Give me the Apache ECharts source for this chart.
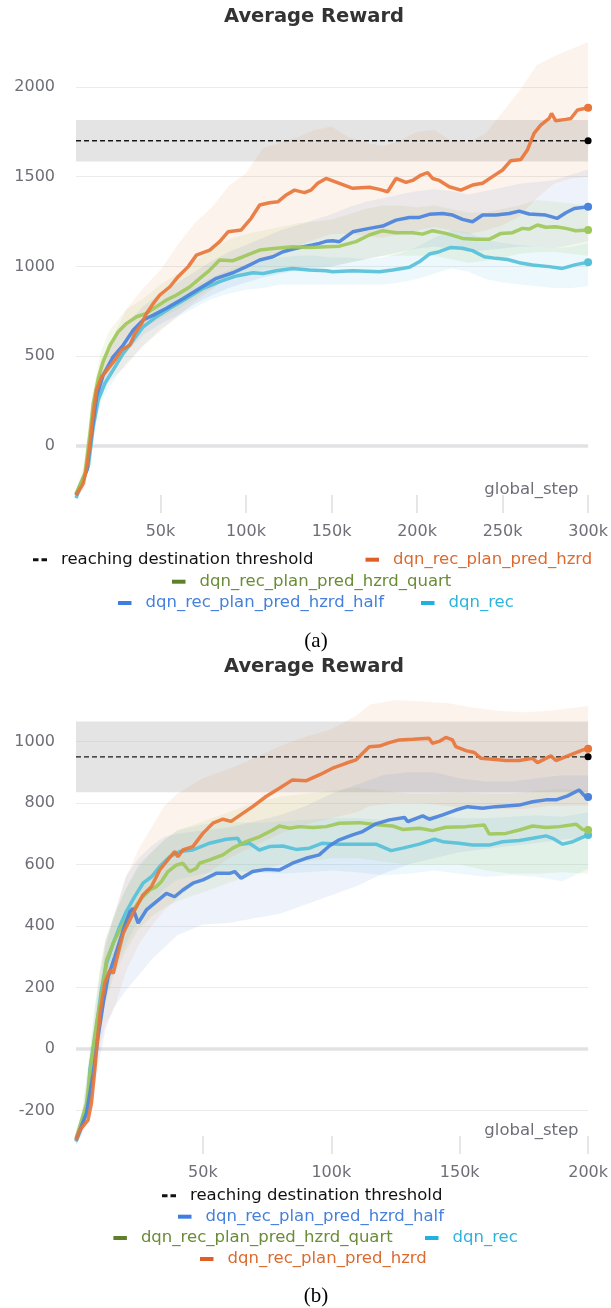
<!DOCTYPE html>
<html>
<head>
<meta charset="utf-8">
<script src="https://cdn.jsdelivr.net/npm/echarts@6/dist/echarts.min.js"></script>
<style>
  html, body { margin: 0; padding: 0; background: #ffffff; }
  #chart { width: 611px; height: 1308px; }
</style>
</head>
<body>
<div id="chart"></div>
<script>
// ---------- series names ----------
const NAME_THR = 'reaching destination threshold';
const NAME_HZRD = 'dqn_rec_plan_pred_hzrd';
const NAME_QUART = 'dqn_rec_plan_pred_hzrd_quart';
const NAME_HALF = 'dqn_rec_plan_pred_hzrd_half';
const NAME_REC = 'dqn_rec';

// ---------- panel (a): 300k steps ----------
const xTicksA = [50000, 100000, 150000, 200000, 250000, 300000];
const thresholdA = 1700;
const thresholdBandA = [1585, 1815];

const hzrdA = [[600,-273],[4900,-208],[6900,-115],[8800,15],[10700,182],[12600,312],[15600,386],[19500,432],[23400,479],[27300,535],[32100,562],[35000,627],[39000,683],[41900,739],[45800,794],[49600,841],[55500,887],[60300,943],[66200,999],[71000,1063],[78800,1091],[84600,1138],[89500,1193],[97200,1203],[103000,1268],[108000,1342],[113700,1355],[118600,1360],[123500,1398],[128300,1425],[134200,1411],[138000,1425],[141900,1463],[146800,1490],[154600,1463],[162400,1435],[172100,1441],[178000,1429],[182800,1416],[187700,1490],[193500,1468],[197400,1479],[202300,1509],[206200,1522],[209100,1490],[213000,1479],[218800,1444],[225600,1425],[232400,1453],[238300,1463],[244100,1500],[250000,1537],[254800,1589],[260700,1596],[264500,1648],[268400,1741],[272300,1787],[277200,1824],[278600,1852],[281100,1811],[287000,1819],[289900,1824],[293800,1871],[300000,1884]];
const quartA = [[600,-265],[5900,-152],[8800,71],[10700,238],[13600,377],[16500,470],[20500,562],[25300,637],[30200,683],[36000,720],[41900,739],[47700,776],[53500,813],[59400,841],[67200,887],[73000,934],[78800,980],[84600,1036],[92400,1032],[98300,1054],[108000,1091],[117600,1101],[127300,1110],[137000,1106],[146800,1110],[154600,1113],[164300,1138],[172100,1175],[179900,1199],[187700,1188],[197400,1188],[203300,1180],[209100,1199],[216900,1184],[226600,1156],[234400,1151],[242100,1151],[249000,1184],[255800,1188],[261600,1212],[265500,1208],[270400,1231],[275200,1218],[281100,1221],[287000,1212],[292800,1199],[300000,1203]];
const halfA = [[600,-273],[6900,-134],[9800,71],[12600,275],[16500,395],[22300,497],[28200,562],[34100,646],[39900,702],[45800,729],[53500,767],[63300,822],[73000,878],[82700,934],[92400,965],[100200,999],[108000,1036],[115700,1054],[121600,1082],[129300,1101],[139000,1119],[142900,1128],[146800,1140],[150700,1143],[154600,1138],[162400,1193],[172100,1212],[179900,1225],[187700,1258],[195500,1273],[201300,1273],[207200,1290],[214900,1295],[220800,1286],[226600,1262],[232400,1249],[238300,1286],[246100,1286],[253900,1295],[259700,1308],[265500,1292],[275200,1286],[282000,1268],[287000,1299],[291900,1323],[300000,1333]];
const recA = [[600,-290],[7800,-115],[10700,108],[13600,256],[17500,349],[22300,423],[28200,516],[34100,590],[39900,664],[47700,720],[55500,767],[65200,822],[75000,878],[84600,915],[94400,947],[104100,965],[110000,961],[117600,976],[127300,989],[137000,980],[146800,976],[150700,971],[162400,976],[178000,971],[185800,980],[195500,995],[201300,1026],[207200,1069],[213000,1082],[219800,1106],[226600,1101],[232400,1088],[239300,1054],[246100,1045],[252900,1039],[259700,1021],[267500,1008],[277200,999],[285000,989],[292800,1010],[300000,1023]];

// spread bands: [step, low, high]
const hzrdBandA = [[600,-290,-255],[5000,-240,-150],[10000,60,230],[15000,280,480],[20000,360,560],[30000,450,760],[40000,560,880],[50000,640,980],[60000,720,1120],[70000,800,1240],[80000,870,1330],[90000,950,1450],[100000,1000,1520],[110000,1050,1660],[120000,1080,1690],[130000,1110,1720],[140000,1150,1760],[150000,1180,1780],[160000,1180,1720],[170000,1170,1690],[180000,1160,1670],[190000,1180,1700],[200000,1200,1750],[210000,1220,1760],[220000,1200,1700],[230000,1180,1690],[240000,1200,1740],[250000,1230,1860],[260000,1280,1980],[270000,1380,2120],[280000,1460,2170],[290000,1490,2210],[300000,1500,2250]];
const quartBandA = [[600,-285,-250],[5000,-200,-110],[10000,120,280],[15000,360,520],[20000,480,640],[30000,610,760],[40000,660,820],[50000,710,900],[60000,760,960],[70000,820,1030],[80000,880,1090],[90000,930,1150],[100000,960,1180],[110000,980,1200],[120000,990,1220],[130000,1000,1240],[140000,1000,1250],[150000,1000,1260],[160000,1020,1290],[170000,1040,1320],[180000,1060,1340],[190000,1060,1340],[200000,1060,1330],[210000,1060,1340],[220000,1040,1320],[230000,1020,1300],[240000,1030,1300],[250000,1050,1320],[260000,1070,1340],[270000,1080,1370],[280000,1080,1360],[290000,1070,1350],[300000,1060,1340]];
const halfBandA = [[600,-290,-255],[5000,-230,-150],[10000,60,220],[15000,280,450],[20000,400,560],[30000,520,680],[40000,620,780],[50000,680,850],[60000,730,910],[70000,790,970],[80000,840,1030],[90000,880,1080],[100000,910,1120],[110000,940,1160],[120000,960,1200],[130000,980,1230],[140000,990,1260],[150000,1000,1290],[160000,1020,1330],[170000,1040,1360],[180000,1060,1380],[190000,1080,1400],[200000,1100,1420],[210000,1110,1430],[220000,1100,1420],[230000,1080,1400],[240000,1090,1420],[250000,1100,1440],[260000,1110,1460],[270000,1110,1470],[280000,1100,1480],[290000,1120,1510],[300000,1140,1540]];
const recBandA = [[600,-300,-265],[5000,-240,-170],[10000,40,170],[15000,240,390],[20000,330,480],[30000,460,600],[40000,560,700],[50000,650,780],[60000,720,840],[70000,770,890],[80000,820,940],[90000,850,980],[100000,870,1010],[110000,880,1030],[120000,900,1050],[130000,900,1060],[140000,900,1060],[150000,900,1050],[160000,900,1050],[170000,900,1040],[180000,900,1050],[190000,910,1070],[200000,930,1110],[210000,960,1160],[220000,990,1200],[230000,970,1190],[240000,930,1150],[250000,910,1130],[260000,900,1120],[270000,890,1110],[280000,880,1100],[290000,880,1110],[300000,890,1130]];

// ---------- panel (b): 200k steps ----------
const xTicksB = [50000, 100000, 150000, 200000];
const thresholdB = 950;
const thresholdBandB = [835, 1065];

const hzrdB = [[600,-296],[2100,-263],[5300,-231],[6600,-177],[7900,-68],[8800,18],[10100,127],[11800,214],[13800,257],[15100,246],[17000,311],[19000,376],[20900,409],[23500,452],[26700,501],[30000,528],[33200,582],[35800,609],[39000,642],[40300,625],[42200,647],[46100,658],[50000,701],[53900,734],[57800,747],[61000,740],[65500,766],[69400,788],[74600,821],[79800,848],[84900,875],[90100,872],[95300,891],[100500,913],[105700,929],[109600,940],[112900,967],[114800,983],[118700,985],[122600,996],[126500,1005],[131700,1007],[138100,1010],[139400,994],[142000,1000],[144600,1013],[147200,1005],[148500,983],[152400,970],[155700,964],[158300,945],[162800,942],[168000,938],[173200,938],[178400,945],[180300,931],[185500,953],[187500,938],[192600,955],[197800,972],[200000,976]];
const quartB = [[600,-291],[4700,-177],[6600,-36],[8600,84],[10500,170],[12500,289],[15100,344],[17600,387],[20200,420],[22800,452],[26100,490],[29300,517],[31900,528],[33800,544],[36400,577],[39600,598],[42200,604],[44800,577],[47400,587],[48700,604],[52600,615],[57800,631],[61600,653],[66800,674],[72000,690],[77200,712],[79800,725],[83700,718],[87600,723],[92800,720],[98000,723],[103100,734],[110900,736],[118700,728],[123900,725],[127800,714],[134300,718],[139400,710],[144600,721],[152400,723],[159600,728],[161500,699],[168000,701],[173200,712],[178400,725],[183600,720],[188800,723],[195300,731],[197800,714],[200000,712]];
const halfB = [[600,-296],[4700,-209],[7300,-79],[9200,40],[11200,149],[13100,235],[15700,300],[19000,387],[21600,447],[22800,457],[24800,409],[28000,452],[31900,479],[35800,506],[39000,495],[42200,517],[46100,539],[50000,550],[55200,571],[60400,571],[62400,577],[64900,555],[69400,577],[74600,584],[79800,582],[84900,604],[90100,620],[95300,631],[99200,660],[103100,680],[108300,696],[112200,707],[117400,732],[122600,745],[128500,753],[129800,739],[135600,758],[138200,747],[143400,761],[148500,777],[153100,788],[158900,783],[164100,788],[173200,793],[178400,804],[183600,810],[187500,810],[192000,823],[196500,842],[199100,819],[200000,819]];
const recB = [[600,-301],[3400,-242],[5500,-150],[6000,-68],[8600,73],[10500,192],[12500,279],[15100,344],[17600,398],[20200,447],[23500,496],[26700,539],[30000,560],[33200,593],[37100,625],[41000,642],[46100,647],[52600,669],[59100,682],[63600,685],[64900,666],[68100,669],[72000,647],[75900,658],[81100,660],[86300,649],[91500,653],[96600,669],[103100,666],[110900,666],[117400,666],[123300,645],[127800,653],[134300,666],[140200,682],[143400,674],[149800,669],[155000,663],[161500,663],[166700,674],[173200,678],[178400,685],[183600,693],[186200,685],[190100,666],[194000,674],[199100,693],[200000,696]];

const hzrdBandB = [[600,-310,-285],[3000,-280,-230],[6000,-220,-130],[8000,-100,100],[10000,10,260],[12000,80,360],[15000,120,420],[20000,250,560],[25000,340,650],[30000,400,720],[35000,450,790],[40000,490,830],[50000,560,880],[60000,620,910],[70000,660,945],[80000,700,985],[90000,730,1015],[100000,750,1040],[110000,770,1085],[115000,790,1120],[125000,800,1135],[135000,800,1130],[145000,790,1125],[155000,780,1110],[165000,780,1100],[175000,780,1095],[185000,790,1100],[195000,790,1110],[200000,790,1115]];
const quartBandB = [[600,-305,-280],[3000,-260,-200],[6000,-150,-20],[8000,-40,140],[10000,60,250],[12000,150,340],[15000,230,430],[20000,320,520],[25000,390,590],[30000,430,640],[35000,460,680],[40000,480,710],[50000,510,740],[60000,540,770],[70000,570,800],[80000,600,820],[90000,610,830],[100000,620,840],[110000,620,850],[120000,610,840],[130000,600,830],[140000,600,830],[150000,600,835],[160000,580,830],[170000,570,830],[180000,570,840],[190000,575,845],[200000,570,840]];
const halfBandB = [[600,-310,-285],[3000,-270,-220],[6000,-200,-90],[8000,-120,60],[10000,-20,200],[12000,60,330],[15000,130,420],[20000,190,560],[25000,240,620],[30000,290,660],[35000,330,690],[40000,370,700],[50000,405,710],[60000,410,720],[70000,425,740],[80000,440,760],[90000,470,790],[100000,500,830],[110000,530,860],[120000,570,890],[130000,600,900],[140000,620,900],[150000,640,880],[160000,650,870],[170000,660,870],[180000,670,880],[190000,680,890],[200000,690,890]];
const recBandB = [[600,-315,-290],[3000,-270,-210],[6000,-150,0],[8000,-30,140],[10000,70,260],[12000,160,350],[15000,250,420],[20000,340,520],[25000,420,600],[30000,470,640],[35000,520,680],[40000,550,710],[50000,570,730],[60000,580,740],[70000,575,735],[80000,570,740],[90000,575,745],[100000,580,750],[110000,575,750],[120000,565,745],[130000,570,750],[140000,580,760],[150000,570,750],[160000,560,750],[170000,565,755],[180000,560,760],[190000,545,755],[200000,585,770]];

// ---------- styling ----------
const FONT = 'DejaVu Sans';
const LABEL_COLOR = '#6e6e78';
const GRID_COLOR = '#ececec';
const COLORS = {
  hzrd:  { line: '#e8763a', band: 'rgba(232,118,58,0.09)',  icon: '#df5f26', text: '#dc6a2e' },
  quart: { line: '#9ec85a', band: 'rgba(158,200,90,0.12)',  icon: '#5f802a', text: '#6a8c36' },
  half:  { line: '#4a82dc', band: 'rgba(74,130,220,0.10)',  icon: '#3e7ee0', text: '#4580dc' },
  rec:   { line: '#55c1d9', band: 'rgba(85,193,217,0.11)',  icon: '#22b0de', text: '#2ab3de' }
};

function lineSeries(name, data, color, gi) {
  const last = data.length - 1;
  return {
    type: 'line', name: name, xAxisIndex: gi, yAxisIndex: gi, data: data,
    symbol: 'circle', showSymbol: true,
    symbolSize: function (v, p) { return p.dataIndex === last ? 8 : 0; },
    lineStyle: { color: color, width: 3.5, opacity: 0.92 },
    itemStyle: { color: color },
    z: 5, silent: true, animation: false
  };
}

function bandSeries(band, fill, gi) {
  return {
    type: 'custom', name: 'band', xAxisIndex: gi, yAxisIndex: gi, silent: true, z: 2,
    clip: true, animation: false,
    data: [[band[0][0], band[0][1]]],
    renderItem: function (params, api) {
      const up = band.map(function (p) { return api.coord([p[0], p[2]]); });
      const lo = band.map(function (p) { return api.coord([p[0], p[1]]); }).reverse();
      return { type: 'polygon', shape: { points: up.concat(lo) }, style: { fill: fill } };
    }
  };
}

// emphasised zero reference line across the plot
function zeroSeries(gi, xMin, xMax) {
  return {
    type: 'line', name: 'zero', xAxisIndex: gi, yAxisIndex: gi,
    data: [[xMin, 0], [xMax, 0]], symbol: 'none',
    lineStyle: { color: '#e2e2e5', width: 3.5 },
    z: 1, silent: true, animation: false
  };
}

function thresholdSeries(gi, xMin, xMax, level, range) {
  return {
    type: 'line', name: NAME_THR, xAxisIndex: gi, yAxisIndex: gi,
    data: [[xMin, level], [xMax, level]],
    symbol: 'circle', showSymbol: true,
    symbolSize: function (v, p) { return p.dataIndex === 1 ? 7 : 0; },
    lineStyle: { color: '#1a1a1a', width: 1.3, type: [5, 3] },
    itemStyle: { color: '#000000' },
    z: 4, silent: true, animation: false,
    markArea: {
      silent: true,
      itemStyle: { color: 'rgba(185,185,185,0.38)' },
      data: [[{ yAxis: range[0] }, { yAxis: range[1] }]]
    }
  };
}

function xAxis(gi, min, max, ticks) {
  return {
    type: 'value', gridIndex: gi, min: min, max: max,
    minInterval: 50000, maxInterval: 50000,
    name: 'global_step', nameLocation: 'end', nameGap: -9.5,
    nameTextStyle: { color: LABEL_COLOR, fontFamily: FONT, fontSize: 16.5, align: 'right', verticalAlign: 'bottom', padding: [0, 0, 15, 0] },
    axisLine: { show: false, onZero: false },
    axisTick: { show: true, inside: true, length: 18, customValues: ticks, lineStyle: { color: '#dedede', width: 1.5 } },
    axisLabel: { customValues: ticks, color: LABEL_COLOR, fontFamily: FONT, fontSize: 16, margin: 11,
      formatter: function (v) { return (v / 1000) + 'k'; } },
    splitLine: { show: false }
  };
}

function yAxis(gi, min, max, step) {
  return {
    type: 'value', gridIndex: gi, min: min, max: max,
    minInterval: step, maxInterval: step,
    axisLine: { show: false }, axisTick: { show: false },
    axisLabel: { showMinLabel: false, showMaxLabel: false, color: LABEL_COLOR, fontFamily: FONT, fontSize: 16, margin: 21,
      formatter: function (v) { return String(v); } },
    splitLine: { show: true, showMinLine: false, showMaxLine: false, lineStyle: { color: GRID_COLOR, width: 1.2 } }
  };
}

const DASH_ICON = 'path://M0,0H5.5V3H0Z M8.5,0H14V3H8.5Z';
function legendEntry(name, left, cy, iconColor, textColor, isDash) {
  return {
    left: left, top: cy - 9.5, padding: 0, selectedMode: false,
    itemWidth: isDash ? 14 : 13.5, itemHeight: isDash ? 3 : 4,
    textStyle: { fontFamily: FONT, fontSize: 16.5, padding: [0, 0, 0, 9] },
    data: [{ name: name, icon: isDash ? DASH_ICON : 'rect', itemStyle: { color: iconColor, borderWidth: 0 }, textStyle: { color: textColor } }]
  };
}

const option = {
  animation: false,
  backgroundColor: '#ffffff',
  title: [
    { text: 'Average Reward', left: 224, top: 7, padding: 0, textStyle: { fontFamily: FONT, fontSize: 19.5, fontWeight: 'bold', color: '#333333' } },
    { text: 'Average Reward', left: 224, top: 657, padding: 0, textStyle: { fontFamily: FONT, fontSize: 19.5, fontWeight: 'bold', color: '#333333' } }
  ],
  grid: [
    { left: 76, right: 21.5, top: 40, height: 473, containLabel: false },
    { left: 76, right: 21.5, top: 695, height: 459, containLabel: false }
  ],
  xAxis: [ xAxis(0, 600, 300000, xTicksA), xAxis(1, 600, 200000, xTicksB) ],
  yAxis: [ yAxis(0, -373, 2261, 500), yAxis(1, -341.5, 1151, 200) ],
  legend: [
    legendEntry(NAME_THR, 33, 560.7, '#111111', '#111111', true),
    legendEntry(NAME_HZRD, 365.5, 560.7, COLORS.hzrd.icon, COLORS.hzrd.text),
    legendEntry(NAME_QUART, 172, 582.7, COLORS.quart.icon, COLORS.quart.text),
    legendEntry(NAME_HALF, 118, 604, COLORS.half.icon, COLORS.half.text),
    legendEntry(NAME_REC, 421, 604, COLORS.rec.icon, COLORS.rec.text),
    legendEntry(NAME_THR, 162, 1196.7, '#111111', '#111111', true),
    legendEntry(NAME_HALF, 178, 1217.7, COLORS.half.icon, COLORS.half.text),
    legendEntry(NAME_QUART, 113.4, 1239, COLORS.quart.icon, COLORS.quart.text),
    legendEntry(NAME_REC, 425, 1239, COLORS.rec.icon, COLORS.rec.text),
    legendEntry(NAME_HZRD, 200, 1260, COLORS.hzrd.icon, COLORS.hzrd.text)
  ],
  graphic: [
    { type: 'text', x: 316, y: 641.7, style: { text: '(a)', font: '21px "Liberation Serif"', align: 'center', verticalAlign: 'middle', fill: '#000000' } },
    { type: 'text', x: 316, y: 1296.7, style: { text: '(b)', font: '21px "Liberation Serif"', align: 'center', verticalAlign: 'middle', fill: '#000000' } }
  ],
  series: [
    zeroSeries(0, 600, 300000),
    bandSeries(recBandA, COLORS.rec.band, 0),
    bandSeries(halfBandA, COLORS.half.band, 0),
    bandSeries(quartBandA, COLORS.quart.band, 0),
    bandSeries(hzrdBandA, COLORS.hzrd.band, 0),
    thresholdSeries(0, 600, 300000, thresholdA, thresholdBandA),
    lineSeries(NAME_REC, recA, COLORS.rec.line, 0),
    lineSeries(NAME_HALF, halfA, COLORS.half.line, 0),
    lineSeries(NAME_QUART, quartA, COLORS.quart.line, 0),
    lineSeries(NAME_HZRD, hzrdA, COLORS.hzrd.line, 0),

    zeroSeries(1, 600, 200000),
    bandSeries(recBandB, COLORS.rec.band, 1),
    bandSeries(halfBandB, COLORS.half.band, 1),
    bandSeries(quartBandB, COLORS.quart.band, 1),
    bandSeries(hzrdBandB, COLORS.hzrd.band, 1),
    thresholdSeries(1, 600, 200000, thresholdB, thresholdBandB),
    lineSeries(NAME_REC, recB, COLORS.rec.line, 1),
    lineSeries(NAME_QUART, quartB, COLORS.quart.line, 1),
    lineSeries(NAME_HALF, halfB, COLORS.half.line, 1),
    lineSeries(NAME_HZRD, hzrdB, COLORS.hzrd.line, 1)
  ]
};

const chart = echarts.init(document.getElementById('chart'), null, { renderer: 'canvas' });
chart.setOption(option);
</script>
</body>
</html>
